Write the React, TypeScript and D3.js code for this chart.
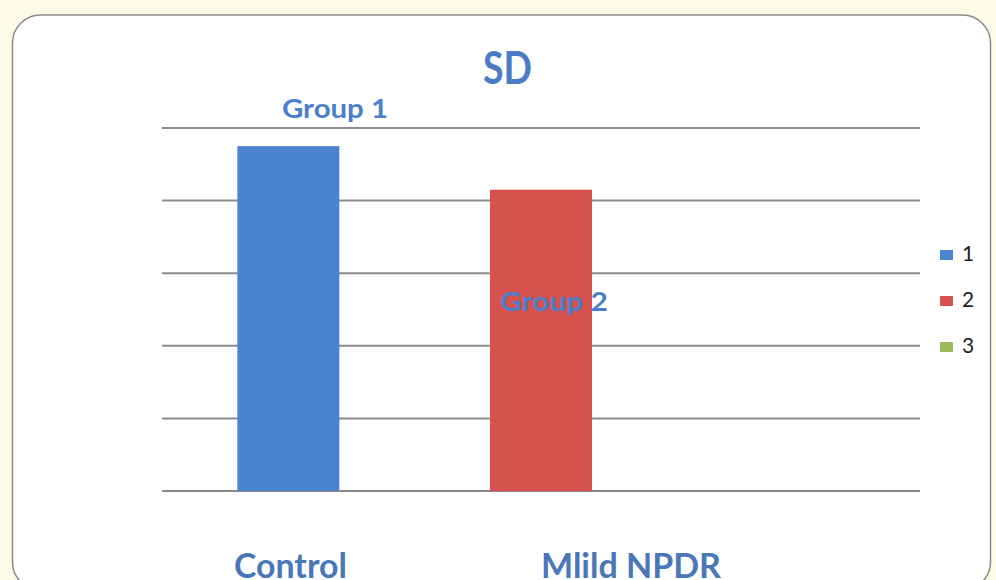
import React from "react";
import * as d3 from "d3";

const categories = ["Control", "Mlild NPDR", ""];
const seriesNames = ["1", "2", "3"];
const seriesValues = [4.75, 4.15, 0];
const yTicks = [0, 1, 2, 3, 4, 5];
const barLabels = ["Group 1", "Group 2"];

const colors = ["#4a84cf", "#d5524e", "#9bbb59"];
const W = 996;
const H = 580;

export default function App() {
  const x = d3.scaleBand<string>().domain(categories).range([162, 920]).paddingInner(0.4).paddingOuter(0.2);
  const y = d3.scaleLinear().domain([0, 5]).range([491, 128]);
  const bw = 102;
  const font = "Lato, 'Open Sans', sans-serif";
  return (
    <svg width={W} height={H} style={{ position: "absolute", left: 0, top: 0, display: "block" }}>
      <rect x={0} y={0} width={W} height={H} fill="#fefae8" />
      <rect x={12.5} y={15} width={978} height={575} rx={28} fill="#ffffff" stroke="#8a8a8a" strokeWidth={1.5} />
      {yTicks.map((t) => (
        <line key={t} x1={162} x2={920} y1={y(t)} y2={y(t)} stroke="#8c8c8c" strokeWidth={2} />
      ))}
      {seriesValues.map((v, i) => {
        const cx = (x(categories[i]) ?? 0) + x.bandwidth() / 2;
        return v > 0 ? (
          <rect key={i} x={cx - bw / 2} y={y(v)} width={bw} height={y(0) - y(v)} fill={colors[i]} />
        ) : null;
      })}
      <text x={483} y={84} fontFamily={font} fontWeight={700} fontSize={46} textLength={49} lengthAdjust="spacingAndGlyphs" fill="#4a7cc6">SD</text>
      <text x={282} y={118} fontFamily={font} fontWeight={700} fontSize={27} textLength={106} lengthAdjust="spacingAndGlyphs" fill="#4a7fcc">{barLabels[0]}</text>
      <text x={500} y={311} fontFamily={font} fontWeight={700} fontSize={27} textLength={108} lengthAdjust="spacingAndGlyphs" fill="#4a7fcc">{barLabels[1]}</text>
      <text x={234} y={578} fontFamily={font} fontWeight={700} fontSize={34} textLength={113} lengthAdjust="spacingAndGlyphs" fill="#4a77b8">{categories[0]}</text>
      <text x={541} y={578} fontFamily={font} fontWeight={700} fontSize={34} textLength={180} lengthAdjust="spacingAndGlyphs" fill="#4a77b8">{categories[1]}</text>
      {seriesNames.map((s, i) => (
        <g key={s} transform={`translate(940, ${250 + i * 46})`}>
          <rect x={0} y={0} width={13} height={10} fill={colors[i]} />
          <text x={22} y={11} fontFamily={font} fontSize={21} fill="#222">{s}</text>
        </g>
      ))}
    </svg>
  );
}
